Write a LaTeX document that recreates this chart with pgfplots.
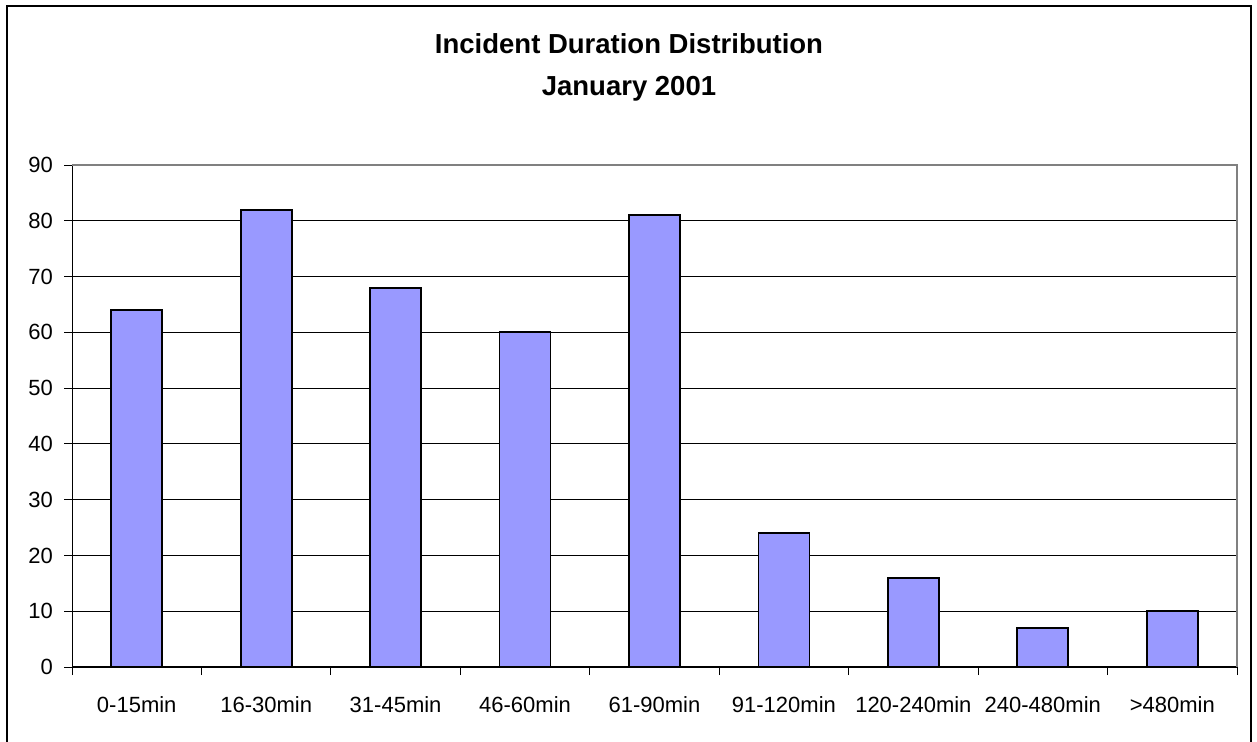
\documentclass[border=0pt]{standalone}
\usepackage{fontspec}
\setmainfont{Liberation Sans}
\usepackage{pgfplots}
\pgfplotsset{compat=1.18}
\definecolor{barblue}{HTML}{9999FF}
\definecolor{framegray}{HTML}{808080}

\begin{document}
\begin{tikzpicture}[x=1pt,y=1pt]
  % page of 1257 x 741 units, like the reference
  \useasboundingbox (0,0) rectangle (1257,741);
  \fill[white] (0,0) rectangle (1257,741);
  \draw[line width=2.2pt] (7,-2) -- (7,735) -- (1251,735) -- (1251,-2);

  \node[anchor=base,font=\fontsize{27.5}{33}\selectfont\bfseries] at (629,687) {Incident Duration Distribution};
  \node[anchor=base,font=\fontsize{27.5}{33}\selectfont\bfseries] at (629,645) {January 2001};

  \begin{axis}[
      at={(72pt,74pt)}, anchor=south west,
      scale only axis,
      width=1165pt, height=502pt,
      xmin=0.5, xmax=9.5,
      ymin=0, ymax=90,
      ytick={0,10,...,90},
      xtick={1,...,9},
      xticklabels={0-15min,16-30min,31-45min,46-60min,61-90min,91-120min,120-240min,240-480min,>480min},
      minor xtick={0.5,1.5,...,9.5},
      every major x tick/.append style={draw=none},
      axis x line*=bottom,
      axis y line*=left,
      axis line style={black, line width=1pt},
      tick align=outside,
      major tick length=8pt,
      minor tick length=8pt,
      tick style={black, line width=0.9pt},
      ymajorgrids,
      grid style={black, line width=0.9pt},
      /pgf/number format/assume math mode=true,
      tick label style={font=\fontsize{22}{26}\selectfont},
      xticklabel style={anchor=base, yshift=-37pt},
      yticklabel style={inner sep=0pt, xshift=-11pt},
      ybar, bar width=51pt, bar shift=0pt,
      clip=false,
    ]
    \addplot[fill=barblue, draw=black, line width=1.8pt]
    coordinates {(1,64) (2,82) (3,68) (4,60) (5,81) (6,24) (7,16) (8,7) (9,10)};
    \draw[framegray, line width=1.2pt] (axis cs:0.5,90) -- (axis cs:9.5,90) -- (axis cs:9.5,0);
  \end{axis}
\end{tikzpicture}
\end{document}
